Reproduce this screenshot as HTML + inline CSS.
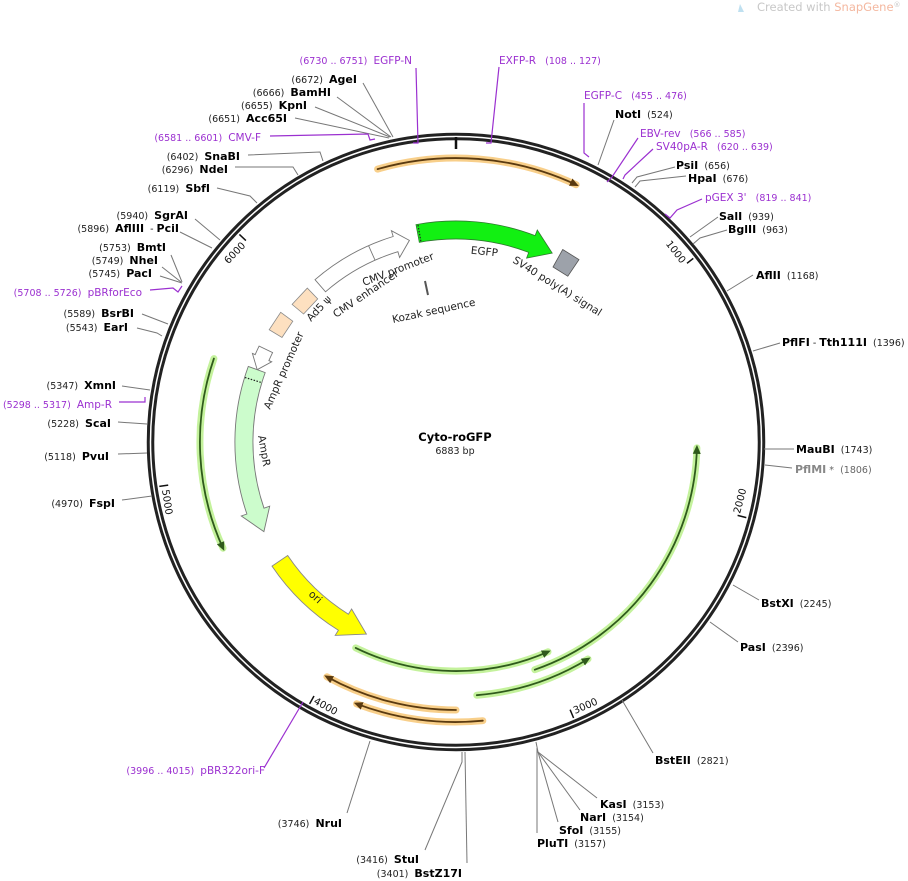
<!DOCTYPE html>
<html><head><meta charset="utf-8"><style>
html,body{margin:0;padding:0;background:#fff}
svg{display:block;font-family:"DejaVu Sans","Liberation Sans",sans-serif}
text{white-space:pre}
.p{font-size:9.5px;fill:#222}
.n{font-size:11px;font-weight:bold;fill:#000}
.pu{fill:#9b30d0}
.ln{stroke:#777;stroke-width:1;fill:none}
.pl{stroke:#9b30d0;stroke-width:1.2;fill:none}
.ft{font-size:10.5px;fill:#222}
</style></head><body>
<svg width="908" height="881" viewBox="0 0 908 881" xmlns="http://www.w3.org/2000/svg" xml:space="preserve">
<defs>
<marker id="ag" markerUnits="userSpaceOnUse" markerWidth="12" markerHeight="12" refX="6" refY="5" orient="auto"><path d="M0,1 L9,5 L0,9 Z" fill="#2f5a1c"/></marker>
<marker id="ao" markerUnits="userSpaceOnUse" markerWidth="12" markerHeight="12" refX="6" refY="5" orient="auto"><path d="M0,1 L9,5 L0,9 Z" fill="#5a3a10"/></marker>
</defs>

<text x="757" y="11" style="font-size:11.5px;fill:#c8c8c8">Created with <tspan fill="#f4b8a0">SnapGene</tspan><tspan style="font-size:7px" dy="-4">®</tspan></text>
<path d="M740,4 L744,12 L738,12 Z" fill="#bfe0f0"/>

<g fill="none" stroke-linecap="round">
<path d="M377.6,169.1 A284 284 0 0 1 576.1,184.7" stroke="#f8cf8a" stroke-width="7"/>
<path d="M377.6,169.1 A284 284 0 0 1 576.1,184.7" stroke="#5a3a10" stroke-width="1.8" marker-end="url(#ao)"/>
<path d="M213.9,358.6 A256 256 0 0 0 223,548.2" stroke="#c4f29c" stroke-width="7"/>
<path d="M213.9,358.6 A256 256 0 0 0 223,548.2" stroke="#2f5a1c" stroke-width="1.8" marker-end="url(#ag)"/>
<path d="M534.8,669.7 A241 241 0 0 0 696.9,447.9" stroke="#c4f29c" stroke-width="7"/>
<path d="M534.8,669.7 A241 241 0 0 0 696.9,447.9" stroke="#2f5a1c" stroke-width="1.8" marker-end="url(#ag)"/>
<path d="M355.7,647.9 A229 229 0 0 0 548,651.8" stroke="#c4f29c" stroke-width="7"/>
<path d="M355.7,647.9 A229 229 0 0 0 548,651.8" stroke="#2f5a1c" stroke-width="1.8" marker-end="url(#ag)"/>
<path d="M476.8,695.2 A254 254 0 0 0 588,659" stroke="#c4f29c" stroke-width="7"/>
<path d="M476.8,695.2 A254 254 0 0 0 588,659" stroke="#2f5a1c" stroke-width="1.8" marker-end="url(#ag)"/>
<path d="M456,710 A268 268 0 0 1 326.9,676.8" stroke="#f8cf8a" stroke-width="7"/>
<path d="M456,710 A268 268 0 0 1 326.9,676.8" stroke="#5a3a10" stroke-width="1.8" marker-end="url(#ao)"/>
<path d="M482.8,720.7 A280 280 0 0 1 356.6,703.8" stroke="#f8cf8a" stroke-width="7"/>
<path d="M482.8,720.7 A280 280 0 0 1 356.6,703.8" stroke="#5a3a10" stroke-width="1.8" marker-end="url(#ao)"/>
</g>

<circle cx="456" cy="442" r="305.5" fill="none" stroke="#222" stroke-width="7.5"/>
<circle cx="456" cy="442" r="305.5" fill="none" stroke="#fff" stroke-width="1.5"/>
<line x1="456" y1="137" x2="456" y2="149" stroke="#111" stroke-width="2.5"/>

<g stroke="#111" stroke-width="1.5">
<line x1="693.3" y1="258.4" x2="687" y2="263.3"/>
<line x1="746.3" y1="517.6" x2="737.6" y2="515.4"/>
<line x1="573.6" y1="718" x2="570.1" y2="709.7"/>
<line x1="309.6" y1="703.9" x2="314" y2="696"/>
<line x1="159.3" y1="486.4" x2="168.2" y2="485.1"/>
<line x1="239.4" y1="234.4" x2="245.9" y2="240.6"/>
</g>
<g style="font-size:10px;fill:#111">
<text transform="translate(681,264) rotate(52.3)" text-anchor="end">1000</text>
<text transform="translate(740,514) rotate(-75.4)">2000</text>
<text transform="translate(575,714) rotate(-23.1)">3000</text>
<text transform="translate(313,703) rotate(29.2)">4000</text>
<text transform="translate(162,490) rotate(81.5)">5000</text>
<text transform="translate(246,246) rotate(-46.2)" text-anchor="end">6000</text>
</g>

<path d="M416,224.6 A221 221 0 0 1 535.1,235.6 L537.3,230 L552.2,253.1 L526.6,258.1 L528.7,252.4 A203 203 0 0 0 419.3,242.3 Z" fill="#12f012" stroke="#2f7a2f" stroke-width="0.8"/>
<line x1="418" y1="225" x2="421" y2="242" stroke="#222" stroke-width="1.2" stroke-dasharray="1.5,1.5"/>
<path d="M562.7,249.5 L579,259.6 L567.8,276.2 L553,267 Z" fill="#9da2aa" stroke="#555" stroke-width="0.8"/>
<path d="M315,279.7 A215 215 0 0 1 393.2,236.5 L391.4,230.7 L409.4,240.4 L399.6,257.5 L397.9,251.7 A199 199 0 0 0 325.5,291.8 Z" fill="#fff" stroke="#777" stroke-width="0.9"/>
<line x1="368.5" y1="245.5" x2="375" y2="260.1" stroke="#777" stroke-width="0.9"/>
<path d="M292.1,304.4 L307.3,288.1 L317.7,298.9 L303.6,314 Z" fill="#fde0c0" stroke="#888" stroke-width="0.8"/>
<path d="M269.2,329.7 L280.7,312.3 L292.8,321.2 L282,337.5 Z" fill="#fde0c0" stroke="#888" stroke-width="0.8"/>
<path d="M259.1,346.1 A219 219 0 0 0 255.2,354.6 L252.4,353.4 L257.2,369.7 L271.7,361.8 L268.9,360.6 A204 204 0 0 1 272.6,352.6 Z" fill="#fff" stroke="#777" stroke-width="0.9"/>
<path d="M248.3,366.4 A221 221 0 0 0 246.9,514 L241.3,516 L263.9,531.6 L269.7,506.2 L264,508.2 A203 203 0 0 1 265.2,372.6 Z" fill="#ccfccc" stroke="#777" stroke-width="0.9"/>
<line x1="245" y1="377.5" x2="262" y2="382.7" stroke="#222" stroke-width="1.2" stroke-dasharray="1.5,1.5"/>
<path d="M272,566.1 A222 222 0 0 0 338.4,630.3 L335.2,635.4 L366.4,634.1 L351.6,609 L348.4,614.2 A203 203 0 0 1 287.7,555.5 Z" fill="#ffff00" stroke="#888" stroke-width="0.9"/>
<line x1="425" y1="281" x2="428" y2="295" stroke="#555" stroke-width="2"/>

<text class="ft" transform="translate(484,255) rotate(6)" text-anchor="middle">EGFP</text>
<text class="ft" transform="translate(512,262) rotate(32)">SV40 poly(A) signal</text>
<text class="ft" transform="translate(364,286) rotate(-21)">CMV promoter</text>
<text class="ft" transform="translate(336,318) rotate(-34)">CMV enhancer</text>
<text class="ft" transform="translate(311,322) rotate(-47)">Ad5 ψ</text>
<text class="ft" transform="translate(270,410) rotate(-66)">AmpR promoter</text>
<text class="ft" transform="translate(258,436) rotate(80)">AmpR</text>
<text class="ft" transform="translate(308,595) rotate(42)">ori</text>
<text class="ft" transform="translate(393,323) rotate(-12)">Kozak sequence</text>

<text x="455" y="441" text-anchor="middle" style="font-size:11.5px;font-weight:bold">Cyto-roGFP</text>
<text x="455" y="454" text-anchor="middle" style="font-size:9.5px;fill:#222">6883 bp</text>

<g class="ln">
<polyline points="363,83 393,137"/>
<polyline points="337,97 391,137"/>
<polyline points="315,107 390,137"/>
<polyline points="295,118 389,138"/>
<polyline points="248,155 320,152 323,161"/>
<polyline points="235,167 293,167 298,175"/>
<polyline points="217,188 250,196 257,203"/>
<polyline points="195,219 220,240"/>
<polyline points="180,232 212,248"/>
<polyline points="171,255 182,282"/>
<polyline points="162,267 181,282"/>
<polyline points="160,276 182,283"/>
<polyline points="142,314 168,324"/>
<polyline points="137,328 157,333 162,336"/>
<polyline points="122,386 150,390"/>
<polyline points="118,422 147,424"/>
<polyline points="118,454 147,453"/>
<polyline points="122,500 152,496"/>
<polyline points="614,120 598,165"/>
<polyline points="675,167 637,177 632,183"/>
<polyline points="686,176 640,181 635,187"/>
<polyline points="718,217 690,237"/>
<polyline points="727,230 700,238 693,244"/>
<polyline points="753,275 727,291"/>
<polyline points="780,343 753,351"/>
<polyline points="794,449 764,449"/>
<polyline points="792,468 765,465"/>
<polyline points="759,600 733,585"/>
<polyline points="738,642 710,622"/>
<polyline points="653,753 622,700"/>
<polyline points="536,742 538,752 597,798"/>
<polyline points="538,752 580,810"/>
<polyline points="538,752 558,822"/>
<polyline points="537,748 537,833"/>
<polyline points="370,741 347,813"/>
<polyline points="462,752 462,762 425,850"/>
<polyline points="465,752 467,863"/>
</g>
<g class="pl">
<polyline points="416,68 418,143 413,143"/>
<polyline points="270,136 368,134 370,140 375,139"/>
<polyline points="150,290 173,288 178,292 182,286"/>
<polyline points="119,402 145,402 145,397"/>
<polyline points="303,702 264,768"/>
<polyline points="499,67 491,143 486,143"/>
<polyline points="584,103 584,153 589,157"/>
<polyline points="638,138 612,177 607,182"/>
<polyline points="653,149 625,175 623,179"/>
<polyline points="702,199 677,210 670,218 665,214"/>
</g>

<g text-anchor="end">
<text x="412" y="64" class="p pu">(6730 .. 6751)  <tspan style="font-size:10.5px">EGFP-N</tspan></text>
<text x="357" y="83"><tspan class="p">(6672)  </tspan><tspan class="n">AgeI</tspan></text>
<text x="331" y="96"><tspan class="p">(6666)  </tspan><tspan class="n">BamHI</tspan></text>
<text x="307" y="109"><tspan class="p">(6655)  </tspan><tspan class="n">KpnI</tspan></text>
<text x="287" y="122"><tspan class="p">(6651)  </tspan><tspan class="n">Acc65I</tspan></text>
<text x="261" y="141" class="p pu">(6581 .. 6601)  <tspan style="font-size:10.5px">CMV-F</tspan></text>
<text x="240" y="160"><tspan class="p">(6402)  </tspan><tspan class="n">SnaBI</tspan></text>
<text x="228" y="173"><tspan class="p">(6296)  </tspan><tspan class="n">NdeI</tspan></text>
<text x="210" y="192"><tspan class="p">(6119)  </tspan><tspan class="n">SbfI</tspan></text>
<text x="188" y="219"><tspan class="p">(5940)  </tspan><tspan class="n">SgrAI</tspan></text>
<text x="179" y="232"><tspan class="p">(5896)  </tspan><tspan class="n">AflIII</tspan><tspan class="p">  - </tspan><tspan class="n">PciI</tspan></text>
<text x="166" y="251"><tspan class="p">(5753)  </tspan><tspan class="n">BmtI</tspan></text>
<text x="158" y="264"><tspan class="p">(5749)  </tspan><tspan class="n">NheI</tspan></text>
<text x="152" y="277"><tspan class="p">(5745)  </tspan><tspan class="n">PacI</tspan></text>
<text x="142" y="296" class="p pu">(5708 .. 5726)  <tspan style="font-size:10.5px">pBRforEco</tspan></text>
<text x="134" y="317"><tspan class="p">(5589)  </tspan><tspan class="n">BsrBI</tspan></text>
<text x="128" y="331"><tspan class="p">(5543)  </tspan><tspan class="n">EarI</tspan></text>
<text x="116" y="389"><tspan class="p">(5347)  </tspan><tspan class="n">XmnI</tspan></text>
<text x="112" y="408" class="p pu">(5298 .. 5317)  <tspan style="font-size:10.5px">Amp-R</tspan></text>
<text x="111" y="427"><tspan class="p">(5228)  </tspan><tspan class="n">ScaI</tspan></text>
<text x="109" y="460"><tspan class="p">(5118)  </tspan><tspan class="n">PvuI</tspan></text>
<text x="115" y="507"><tspan class="p">(4970)  </tspan><tspan class="n">FspI</tspan></text>
<text x="265" y="774" class="p pu">(3996 .. 4015)  <tspan style="font-size:10.5px">pBR322ori-F</tspan></text>
<text x="342" y="827"><tspan class="p">(3746)  </tspan><tspan class="n">NruI</tspan></text>
<text x="419" y="863"><tspan class="p">(3416)  </tspan><tspan class="n">StuI</tspan></text>
<text x="462" y="877"><tspan class="p">(3401)  </tspan><tspan class="n">BstZ17I</tspan></text>
</g>

<g>
<text x="499" y="64" class="p pu"><tspan style="font-size:10.5px">EXFP-R</tspan>   (108 .. 127)</text>
<text x="584" y="99" class="p pu"><tspan style="font-size:10.5px">EGFP-C</tspan>   (455 .. 476)</text>
<text x="615" y="118"><tspan class="n">NotI</tspan><tspan class="p">  (524)</tspan></text>
<text x="640" y="137" class="p pu"><tspan style="font-size:10.5px">EBV-rev</tspan>   (566 .. 585)</text>
<text x="656" y="150" class="p pu"><tspan style="font-size:10.5px">SV40pA-R</tspan>   (620 .. 639)</text>
<text x="676" y="169"><tspan class="n">PsiI</tspan><tspan class="p">  (656)</tspan></text>
<text x="688" y="182"><tspan class="n">HpaI</tspan><tspan class="p">  (676)</tspan></text>
<text x="705" y="201" class="p pu"><tspan style="font-size:10.5px">pGEX 3'</tspan>   (819 .. 841)</text>
<text x="719" y="220"><tspan class="n">SalI</tspan><tspan class="p">  (939)</tspan></text>
<text x="728" y="233"><tspan class="n">BglII</tspan><tspan class="p">  (963)</tspan></text>
<text x="756" y="279"><tspan class="n">AflII</tspan><tspan class="p">  (1168)</tspan></text>
<text x="782" y="346"><tspan class="n">PflFI</tspan><tspan class="p"> - </tspan><tspan class="n">Tth111I</tspan><tspan class="p">  (1396)</tspan></text>
<text x="796" y="453"><tspan class="n">MauBI</tspan><tspan class="p">  (1743)</tspan></text>
<text x="795" y="473"><tspan class="n" style="fill:#888">PflMI</tspan><tspan class="p" style="fill:#666"> *  (1806)</tspan></text>
<text x="761" y="607"><tspan class="n">BstXI</tspan><tspan class="p">  (2245)</tspan></text>
<text x="740" y="651"><tspan class="n">PasI</tspan><tspan class="p">  (2396)</tspan></text>
<text x="655" y="764"><tspan class="n">BstEII</tspan><tspan class="p">  (2821)</tspan></text>
<text x="600" y="808"><tspan class="n">KasI</tspan><tspan class="p">  (3153)</tspan></text>
<text x="580" y="821"><tspan class="n">NarI</tspan><tspan class="p">  (3154)</tspan></text>
<text x="559" y="834"><tspan class="n">SfoI</tspan><tspan class="p">  (3155)</tspan></text>
<text x="537" y="847"><tspan class="n">PluTI</tspan><tspan class="p">  (3157)</tspan></text>
</g>
</svg>
</body></html>
